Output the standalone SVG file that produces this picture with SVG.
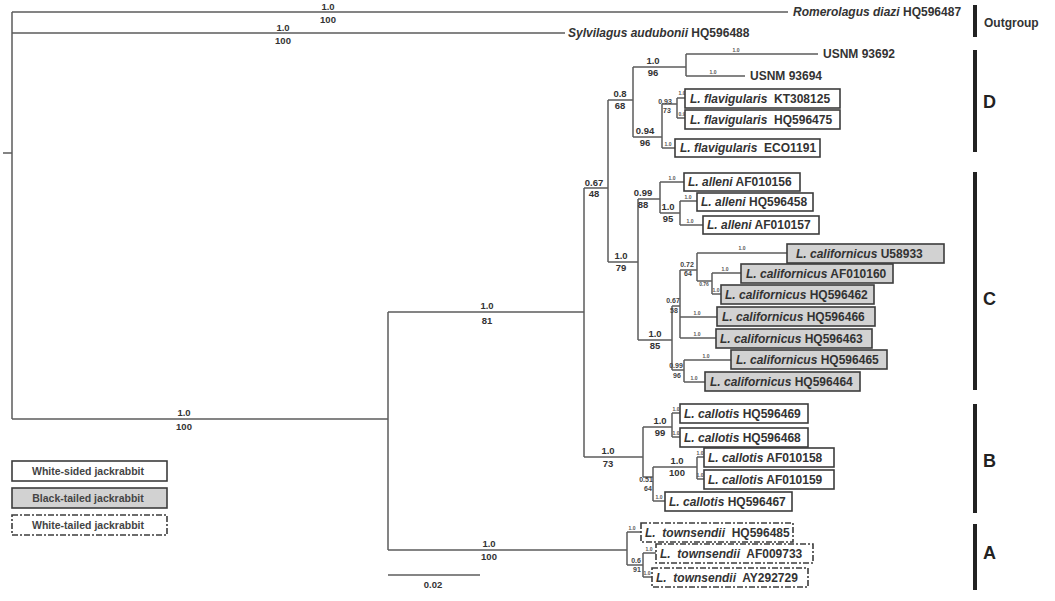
<svg xmlns="http://www.w3.org/2000/svg" width="1055" height="601" viewBox="0 0 1055 601">
<style>
text{font-family:"Liberation Sans",Arial,sans-serif;font-weight:bold;fill:#333}
.br{stroke:#5c5c5c;stroke-width:1.5;fill:none}
.bx{fill:#fff;stroke:#3c3c3c;stroke-width:1.6}
.bk{fill:#d2d2d2}
.dsh{stroke-dasharray:6 2 2 2}
.lb{font-size:12px}
.sp{font-size:9.5px;text-anchor:middle}
.sm{font-size:7px;text-anchor:middle;fill:#444}
.tn{font-size:5px;text-anchor:middle;fill:#555}
.bar{stroke:#222;stroke-width:4}
.cl{font-size:18px;fill:#222}
.lg{font-size:10.5px;text-anchor:middle;fill:#444}
</style>
<rect width="1055" height="601" fill="#fff"/>
<g id="connectors" class="br">
<path d="M3,153H12M12,12V419M12,12H788M12,33H565M12,419H388"/>
<path d="M388,312V550M388,312H584M388,550H627"/>
<path d="M584,188V457M584,188H608M584,457H643"/>
<path d="M608,100V262M608,100H633M608,262H638"/>
<path d="M633,67V137M633,67H686M633,137H662"/>
<path d="M686,54V76M686,54H818M686,76H745"/>
<path d="M662,104V148M662,104H677M662,148H675"/>
<path d="M677,98V118M677,98H685M677,118H685"/>
<path d="M638,199V340M638,199H660M638,340H672"/>
<path d="M660,182V213M660,182H684M660,213H680"/>
<path d="M680,201V225M680,201H697M680,225H703"/>
<path d="M672,306V370M672,306H680M672,370H684"/>
<path d="M680,270V338M680,270H697M680,317H717M680,338H716"/>
<path d="M697,253V281M697,253H787M697,281H712"/>
<path d="M712,273V294M712,273H741M712,294H721"/>
<path d="M684,360V382M684,360H731M684,382H705"/>
<path d="M643,427V477M643,427H672M643,477H653"/>
<path d="M672,413V437M672,413H680M672,437H680"/>
<path d="M653,467V501M653,467H697M653,501H665"/>
<path d="M697,457V479M697,457H704M697,479H704"/>
<path d="M627,532V565M627,532H641M627,565H643"/>
<path d="M643,553V577M643,553H656M643,577H652"/>
<path d="M388,575H480"/>
</g>
<g id="supports">
<text class="sp" x="328" y="10">1.0</text><text class="sp" x="328" y="23">100</text>
<text class="sp" x="283" y="31">1.0</text><text class="sp" x="283" y="44">100</text>
<text class="sp" x="184" y="416">1.0</text><text class="sp" x="184" y="430">100</text>
<text class="sp" x="487" y="309">1.0</text><text class="sp" x="487" y="324">81</text>
<text class="sp" x="489" y="547">1.0</text><text class="sp" x="489" y="560">100</text>
<text class="sp" x="433" y="588">0.02</text>
<text class="sp" x="594" y="186">0.67</text><text class="sp" x="594" y="197">48</text>
<text class="sp" x="620" y="97">0.8</text><text class="sp" x="620" y="109">68</text>
<text class="sp" x="653" y="64">1.0</text><text class="sp" x="653" y="76">96</text>
<text class="sp" x="645" y="134">0.94</text><text class="sp" x="645" y="146">96</text>
<text class="sp" x="643" y="196">0.99</text><text class="sp" x="643" y="208">88</text>
<text class="sp" x="668" y="210">1.0</text><text class="sp" x="668" y="222">95</text>
<text class="sp" x="621" y="259">1.0</text><text class="sp" x="621" y="271">79</text>
<text class="sp" x="655" y="337">1.0</text><text class="sp" x="655" y="349">85</text>
<text class="sp" x="608" y="454">1.0</text><text class="sp" x="608" y="467">73</text>
<text class="sp" x="660" y="424">1.0</text><text class="sp" x="660" y="436">99</text>
<text class="sp" x="677" y="464">1.0</text><text class="sp" x="677" y="476">100</text>
<text class="sm" x="673" y="303">0.67</text><text class="sm" x="674" y="313">58</text>
<text class="sm" x="687" y="267">0.72</text><text class="sm" x="688" y="276">64</text>
<text class="sm" x="676" y="368">0.99</text><text class="sm" x="677" y="378">96</text>
<text class="sm" x="646" y="482">0.51</text><text class="sm" x="648" y="491">64</text>
<text class="sm" x="665" y="104">0.93</text><text class="sm" x="667" y="113">73</text>
<text class="sm" x="636" y="563">0.6</text><text class="sm" x="637" y="572">91</text>
<text class="tn" x="704" y="286">0.76</text>
<text class="tn" x="736" y="52">1.0</text><text class="tn" x="713" y="74">1.0</text>
<text class="tn" x="682" y="95">1.0</text><text class="tn" x="682" y="116">0.9</text><text class="tn" x="668" y="146">1.0</text>
<text class="tn" x="672" y="180">1.0</text><text class="tn" x="688" y="199">1.0</text><text class="tn" x="690" y="223">1.0</text>
<text class="tn" x="742" y="250">1.0</text><text class="tn" x="725" y="271">1.0</text><text class="tn" x="716" y="292">1.0</text>
<text class="tn" x="697" y="315">1.0</text><text class="tn" x="697" y="336">1.0</text>
<text class="tn" x="706" y="358">1.0</text><text class="tn" x="694" y="380">1.0</text>
<text class="tn" x="676" y="411">1.0</text><text class="tn" x="676" y="435">1.0</text>
<text class="tn" x="700" y="455">1.0</text><text class="tn" x="700" y="477">1.0</text>
<text class="tn" x="659" y="499">1.0</text>
<text class="tn" x="632" y="530">1.0</text><text class="tn" x="649" y="551">1.0</text><text class="tn" x="647" y="575">1.0</text>
</g>
<g id="n-romerolagus"><text class="lb" x="793" y="16"><tspan font-style="italic">Romerolagus diazi</tspan> HQ596487</text></g>
<g id="n-sylvilagus"><text class="lb" x="568" y="37"><tspan font-style="italic">Sylvilagus audubonii</tspan> HQ596488</text></g>
<g id="n-usnm93692"><text class="lb" x="823" y="58">USNM 93692</text></g>
<g id="n-usnm93694"><text class="lb" x="750" y="80">USNM 93694</text></g>
<g id="n-KT308125"><rect class="bx" x="685" y="89" width="155" height="19"/><text class="lb" x="690" y="103" xml:space="preserve"><tspan font-style="italic">L. flavigularis</tspan>  KT308125</text></g>
<g id="n-HQ596475"><rect class="bx" x="685" y="110" width="155" height="19"/><text class="lb" x="690" y="124" xml:space="preserve"><tspan font-style="italic">L. flavigularis</tspan>  HQ596475</text></g>
<g id="n-ECO1191"><rect class="bx" x="675" y="139" width="145" height="18"/><text class="lb" x="680" y="152" xml:space="preserve"><tspan font-style="italic">L. flavigularis</tspan>  ECO1191</text></g>
<g id="n-AF010156"><rect class="bx" x="684" y="173" width="116" height="18"/><text class="lb" x="688" y="186"><tspan font-style="italic">L. alleni</tspan> AF010156</text></g>
<g id="n-HQ596458"><rect class="bx" x="697" y="193" width="116" height="18"/><text class="lb" x="701" y="206"><tspan font-style="italic">L. alleni</tspan> HQ596458</text></g>
<g id="n-AF010157"><rect class="bx" x="703" y="216" width="116" height="18"/><text class="lb" x="707" y="229"><tspan font-style="italic">L. alleni</tspan> AF010157</text></g>
<g id="n-U58933"><rect class="bx bk" x="787" y="244" width="157" height="19"/><text class="lb" x="796" y="258"><tspan font-style="italic">L. californicus</tspan> U58933</text></g>
<g id="n-AF010160"><rect class="bx bk" x="741" y="264" width="152" height="19"/><text class="lb" x="746" y="278"><tspan font-style="italic">L. californicus</tspan> AF010160</text></g>
<g id="n-HQ596462"><rect class="bx bk" x="721" y="285" width="153" height="19"/><text class="lb" x="725" y="299"><tspan font-style="italic">L. californicus</tspan> HQ596462</text></g>
<g id="n-HQ596466"><rect class="bx bk" x="717" y="307" width="158" height="19"/><text class="lb" x="722" y="321"><tspan font-style="italic">L. californicus</tspan> HQ596466</text></g>
<g id="n-HQ596463"><rect class="bx bk" x="716" y="329" width="156" height="19"/><text class="lb" x="720" y="343"><tspan font-style="italic">L. californicus</tspan> HQ596463</text></g>
<g id="n-HQ596465"><rect class="bx bk" x="731" y="350" width="156" height="19"/><text class="lb" x="736" y="364"><tspan font-style="italic">L. californicus</tspan> HQ596465</text></g>
<g id="n-HQ596464"><rect class="bx bk" x="705" y="372" width="155" height="19"/><text class="lb" x="710" y="386"><tspan font-style="italic">L. californicus</tspan> HQ596464</text></g>
<g id="n-HQ596469"><rect class="bx" x="680" y="404" width="128" height="19"/><text class="lb" x="684" y="418"><tspan font-style="italic">L. callotis</tspan> HQ596469</text></g>
<g id="n-HQ596468"><rect class="bx" x="680" y="428" width="128" height="19"/><text class="lb" x="684" y="442"><tspan font-style="italic">L. callotis</tspan> HQ596468</text></g>
<g id="n-AF010158"><rect class="bx" x="704" y="448" width="130" height="19"/><text class="lb" x="708" y="462"><tspan font-style="italic">L. callotis</tspan> AF010158</text></g>
<g id="n-AF010159"><rect class="bx" x="704" y="470" width="130" height="19"/><text class="lb" x="708" y="484"><tspan font-style="italic">L. callotis</tspan> AF010159</text></g>
<g id="n-HQ596467"><rect class="bx" x="665" y="492" width="127" height="19"/><text class="lb" x="669" y="506"><tspan font-style="italic">L. callotis</tspan> HQ596467</text></g>
<g id="n-HQ596485"><rect class="bx dsh" x="641" y="523" width="152" height="19"/><text class="lb" x="645" y="537" xml:space="preserve"><tspan font-style="italic">L.  townsendii</tspan>  HQ596485</text></g>
<g id="n-AF009733"><rect class="bx dsh" x="656" y="544" width="157" height="19"/><text class="lb" x="660" y="558" xml:space="preserve"><tspan font-style="italic">L.  townsendii</tspan>  AF009733</text></g>
<g id="n-AY292729"><rect class="bx dsh" x="652" y="568" width="156" height="19"/><text class="lb" x="656" y="582" xml:space="preserve"><tspan font-style="italic">L.  townsendii</tspan>  AY292729</text></g>
<g id="legend">
<rect class="bx" x="12" y="461" width="155" height="20"/><text class="lg" x="88" y="475">White-sided jackrabbit</text>
<rect class="bx bk" x="12" y="488" width="155" height="20"/><text class="lg" x="88" y="502">Black-tailed jackrabbit</text>
<rect class="bx dsh" x="12" y="515" width="155" height="20"/><text class="lg" x="88" y="529">White-tailed jackrabbit</text>
</g>
<g id="clades">
<path class="bar" d="M975,5V37M975,50V152M975,172V390M975,404V513M975,524V590"/>
<text x="984" y="27" style="font-size:12px;fill:#333">Outgroup</text>
<text class="cl" x="983" y="108">D</text>
<text class="cl" x="983" y="305">C</text>
<text class="cl" x="983" y="467">B</text>
<text class="cl" x="983" y="559">A</text>
</g>
</svg>
